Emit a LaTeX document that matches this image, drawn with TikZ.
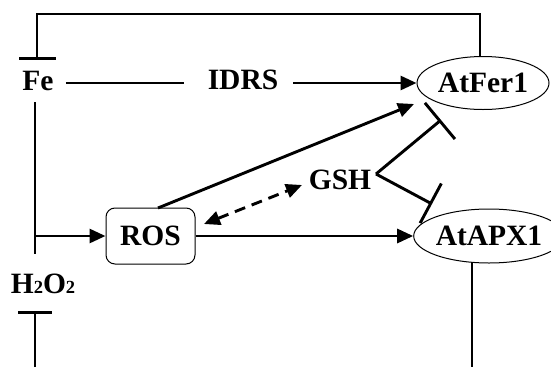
\documentclass[tikz,border=0pt]{standalone}
\usepackage{fontspec}
\setmainfont{Liberation Serif}
\usetikzlibrary{arrows.meta,shapes.geometric,calc}
\begin{document}
\begin{tikzpicture}[x=1pt,y=-1pt,
  lbl/.style={inner sep=0pt,font=\fontsize{29.5}{31}\selectfont\bfseries},
  conn/.style={line width=2.9pt},
  act/.style={conn,-{Triangle[length=16pt,width=14pt]}},
  dact/.style={conn,{Triangle[length=16pt,width=14pt]}-{Triangle[length=16pt,width=14pt]},dash pattern=on 11pt off 7pt},
  ellnode/.style={lbl,ellipse,draw,line width=1pt},
]
\useasboundingbox (0,0) rectangle (551,367);
% nodes
\node[lbl] (Fe) at (38,81) {Fe};
\node[lbl] (IDRS) at (243,80) {IDRS};
\node[ellnode,minimum width=132pt,minimum height=53pt] (AtFer1) at (483,83) {AtFer1};
\node[lbl] (GSH) at (340,180) {GSH};
\node[lbl,draw,line width=1pt,rounded corners=9pt,minimum width=89pt,minimum height=56pt] (ROS) at (150.5,236) {ROS};
\node[ellnode,minimum width=123pt,minimum height=54pt] (AtAPX1) at (489,236) {AtAPX1};
\node[lbl] (H2O2) at (43,284) {H{\fontsize{18.5}{18.5}\selectfont 2}O{\fontsize{18.5}{18.5}\selectfont 2}};
% coordinates
\coordinate (topL) at (37,14);
\coordinate (topR) at (480,14);
\coordinate (feT) at (37,60);
\coordinate (vtop) at (35,102);
\coordinate (vbot) at (35,254);
\coordinate (rs) at (158,208);
\coordinate (ft) at (414,104);
\coordinate (d1) at (204,224);
\coordinate (d2) at (302,185);
\coordinate (gv) at (376,174);
\coordinate (gi1) at (441,120);
\coordinate (gi2) at (432,204);
\coordinate (hb) at (35,367);
\coordinate (ht) at (35,311);
\coordinate (ab) at (472,262);
\coordinate (abot) at (472,367);
% connectors
\draw[conn,-{Bar[width=37pt]}] (AtFer1.north -| topR) -- (topR) -- (topL) -- (feT);
\draw[conn,shorten <=12pt,shorten >=24pt] (Fe.east |- AtFer1.west) -- (IDRS.west |- AtFer1.west);
\draw[act,shorten <=15pt] (IDRS.east |- AtFer1.west) -- (AtFer1.west);
\draw[conn] (vtop) -- (vbot);
\draw[act] (vtop |- ROS.west) -- (ROS.west);
\draw[act] (ROS.east) -- (ROS.east -| AtAPX1.west);
\draw[act] (rs) -- (ft);
\draw[dact] (d1) -- (d2);
\draw[conn,-{Bar[width=47pt]}] (gv) -- (gi1);
\draw[conn,-{Bar[width=45pt]}] (gv) -- (gi2);
\draw[conn,-{Bar[width=34pt]}] (hb) -- (ht);
\draw[conn] (ab) -- (abot);
\end{tikzpicture}
\end{document}
